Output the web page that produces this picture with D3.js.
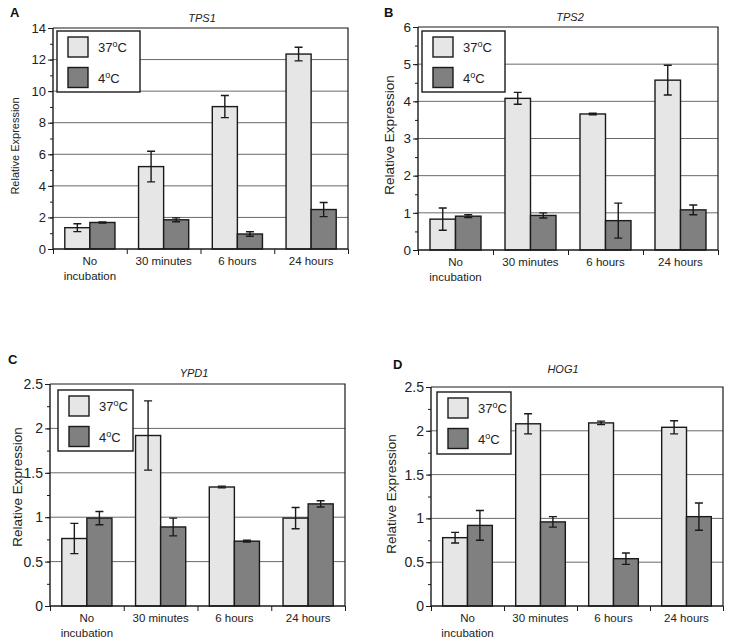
<!DOCTYPE html>
<html><head><meta charset="utf-8">
<script src="https://cdn.jsdelivr.net/npm/d3@7"></script>
<style>
html,body{margin:0;padding:0;background:#fff;}
svg{display:block;font-family:"Liberation Sans",Arial,Helvetica,sans-serif;}
</style></head>
<body>
<svg id="chart" width="729" height="641"></svg>
<script>
// ---------- data ----------
const categories = ["No incubation", "30 minutes", "6 hours", "24 hours"];
const seriesLabels = ["37", "4"]; // temperatures in degrees C

const tps1_37 = [1.35, 5.22, 9.02, 12.35];
const tps1_37_err = [0.25, 0.97, 0.70, 0.43];
const tps1_4 = [1.68, 1.85, 0.95, 2.50];
const tps1_4_err = [0.04, 0.12, 0.14, 0.45];

const tps2_37 = [0.83, 4.08, 3.66, 4.57];
const tps2_37_err = [0.30, 0.16, 0.02, 0.40];
const tps2_4 = [0.91, 0.93, 0.79, 1.08];
const tps2_4_err = [0.04, 0.07, 0.47, 0.13];

const ypd1_37 = [0.76, 1.92, 1.34, 0.99];
const ypd1_37_err = [0.17, 0.39, 0.01, 0.12];
const ypd1_4 = [0.99, 0.89, 0.73, 1.15];
const ypd1_4_err = [0.075, 0.10, 0.01, 0.035];

const hog1_37 = [0.78, 2.08, 2.09, 2.04];
const hog1_37_err = [0.06, 0.115, 0.02, 0.075];
const hog1_4 = [0.92, 0.96, 0.54, 1.02];
const hog1_4_err = [0.17, 0.06, 0.065, 0.155];

const tps1Ticks = [0, 2, 4, 6, 8, 10, 12, 14];
const tps2Ticks = [0, 1, 2, 3, 4, 5, 6];
const smallTicks = [0, 0.5, 1, 1.5, 2, 2.5];

// ---------- panels (layout) ----------
const panels = [
  {letter:"A", title:"TPS1", s37:tps1_37, e37:tps1_37_err, s4:tps1_4, e4:tps1_4_err, ticks:tps1Ticks, minorStep:1,
   L:53, R:348, T:28, B:249, letterXY:[10,17], titleXY:[202,22], ylab:[19,146], ylabSize:11, tickSize:13,
   leg:[57,31,83,61]},
  {letter:"B", title:"TPS2", s37:tps2_37, e37:tps2_37_err, s4:tps2_4, e4:tps2_4_err, ticks:tps2Ticks, minorStep:0.5,
   L:418, R:718, T:27, B:250, letterXY:[384,17], titleXY:[570,21], ylab:[394,135], ylabSize:13.5, tickSize:13.5,
   leg:[422,31,83,61]},
  {letter:"C", title:"YPD1", s37:ypd1_37, e37:ypd1_37_err, s4:ypd1_4, e4:ypd1_4_err, ticks:smallTicks, minorStep:0.25,
   L:50, R:345, T:384, B:606, letterXY:[8,364], titleXY:[194,377], ylab:[22,487], ylabSize:13.5, tickSize:14,
   leg:[58,390,75,61]},
  {letter:"D", title:"HOG1", s37:hog1_37, e37:hog1_37_err, s4:hog1_4, e4:hog1_4_err, ticks:smallTicks, minorStep:0.25,
   L:431, R:723, T:387, B:606, letterXY:[393,369], titleXY:[563,373], ylab:[396,494], ylabSize:13.5, tickSize:14,
   leg:[437,392,74,62]}
];

const lightFill = "#e6e6e6", darkFill = "#808080", ink = "#1a1a1a", gridCol = "#6a6a6a";

const svg = d3.select("#chart");

panels.forEach(p => {
  const g = svg.append("g");
  const yMax = p.ticks[p.ticks.length-1];
  const y = d3.scaleLinear().domain([0, yMax]).range([p.B, p.T]);
  const x = d3.scaleBand().domain(categories).range([p.L, p.R]).paddingInner(0).paddingOuter(0);
  const sub = d3.scaleBand().domain(seriesLabels).range([0, x.bandwidth()]).paddingInner(0).paddingOuter(0.24/0.68*0.5*2/1.0*0.5);
  const bw = x.bandwidth()*0.34;
  const off = (x.bandwidth() - 2*bw)/2;

  // gridlines
  g.append("g").selectAll("line").data(p.ticks.filter(t => t>0 && t<yMax)).join("line")
    .attr("x1", p.L).attr("x2", p.R).attr("y1", d=>y(d)).attr("y2", d=>y(d))
    .attr("stroke", gridCol).attr("stroke-width", 1);

  // frame (top + right)
  g.append("path").attr("d", `M${p.L},${p.T}H${p.R}V${p.B}`).attr("fill","none").attr("stroke",ink).attr("stroke-width",1.2);

  // bars
  const series = [
    {vals:p.s37, errs:p.e37, fill:lightFill, k:0},
    {vals:p.s4, errs:p.e4, fill:darkFill, k:1}
  ];
  series.forEach(s => {
    const gs = g.append("g");
    gs.selectAll("rect").data(categories).join("rect")
      .attr("x", (c)=> x(c)+off+s.k*bw)
      .attr("y", (c,i)=> y(s.vals[i]))
      .attr("width", bw)
      .attr("height", (c,i)=> y(0)-y(s.vals[i]))
      .attr("fill", s.fill).attr("stroke", ink).attr("stroke-width", 1.4);
  });
  series.forEach(s => {
    const ge = g.append("g").attr("stroke", ink).attr("stroke-width", 1.4).attr("fill","none");
    categories.forEach((c,i) => {
      const cx = x(c)+off+s.k*bw+bw/2;
      const hi = y(s.vals[i]+s.errs[i]), lo = y(s.vals[i]-s.errs[i]);
      ge.append("path").attr("d", `M${cx},${hi}V${lo}M${cx-4},${hi}H${cx+4}M${cx-4},${lo}H${cx+4}`);
    });
  });

  // y axis minor ticks
  const minor = d3.range(0, yMax+1e-9, p.minorStep);
  g.append("g").attr("transform", `translate(${p.L},0)`)
    .call(d3.axisLeft(y).tickValues(minor).tickSize(3).tickFormat(""))
    .call(a => { a.select(".domain").remove(); a.selectAll("line").attr("stroke", ink); });
  // y axis major
  g.append("g").attr("transform", `translate(${p.L},0)`)
    .call(d3.axisLeft(y).tickValues(p.ticks).tickSize(5).tickPadding(2).tickFormat(d3.format("~g")))
    .call(a => {
      a.select(".domain").attr("stroke", ink).attr("stroke-width", 1.4).attr("d", `M0,${p.B}V${p.T}`);
      a.selectAll("line").attr("stroke", ink);
      a.selectAll("text").attr("fill", "#222").style("font-size", p.tickSize+"px").style("font-family", '"Liberation Sans",Arial,sans-serif');
    });

  // x axis boundary ticks
  const xb = d3.scaleLinear().domain([0, categories.length]).range([p.L, p.R]);
  g.append("g").attr("transform", `translate(0,${p.B})`)
    .call(d3.axisBottom(xb).tickValues(d3.range(0, categories.length+1)).tickSize(5).tickFormat(""))
    .call(a => { a.select(".domain").attr("stroke", ink).attr("stroke-width",1.4).attr("d", `M${p.L},0H${p.R}`); a.selectAll("line").attr("stroke", ink); });

  // category labels
  const cl = g.append("g").attr("fill", "#222").style("font-size", "11.5px");
  categories.forEach(c => {
    const words = c === "No incubation" ? ["No", "incubation"] : [c];
    words.forEach((w, j) => {
      cl.append("text").attr("x", x(c)+x.bandwidth()/2).attr("y", p.B+16+j*14.5)
        .attr("text-anchor","middle").text(w);
    });
  });

  // title
  g.append("text").attr("x", p.titleXY[0]).attr("y", p.titleXY[1]).attr("text-anchor","middle")
    .style("font-style","italic").style("font-size","11px").attr("fill","#222").text(p.title);
  // panel letter
  g.append("text").attr("x", p.letterXY[0]).attr("y", p.letterXY[1])
    .style("font-weight","bold").style("font-size","13px").attr("fill","#111").text(p.letter);
  // y label
  g.append("text").attr("transform", `translate(${p.ylab[0]},${p.ylab[1]}) rotate(-90)`)
    .attr("text-anchor","middle").style("font-size", p.ylabSize+"px").attr("fill","#222").text("Relative Expression");

  // legend
  const [lx, ly, lw, lh] = p.leg;
  const lg = g.append("g");
  lg.append("rect").attr("x", lx).attr("y", ly).attr("width", lw).attr("height", lh)
    .attr("fill","#fff").attr("stroke", ink).attr("stroke-width", 1.4);
  [lightFill, darkFill].forEach((f, k) => {
    const sy = ly + 6 + k*30.5;
    lg.append("rect").attr("x", lx+11).attr("y", sy).attr("width", 20).attr("height", 20)
      .attr("fill", f).attr("stroke", ink).attr("stroke-width", 1.4);
    const t = lg.append("text").attr("x", lx+41).attr("y", sy+15).attr("fill","#222").style("font-size","13px");
    t.append("tspan").text(seriesLabels[k]);
    t.append("tspan").attr("dy", -5).style("font-size","9px").text("o");
    t.append("tspan").attr("dy", 5).text("C");
  });
});
</script>
</body></html>
